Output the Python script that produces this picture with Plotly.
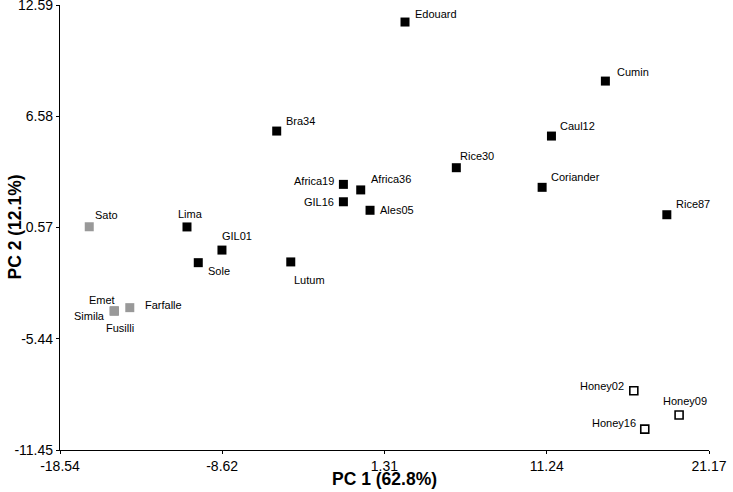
import plotly.graph_objects as go

# --- data ---
names = ["Edouard", "Cumin", "Caul12", "Rice30", "Coriander", "Rice87",
         "Africa19", "Africa36", "GIL16", "Ales05", "Bra34", "Lutum",
         "Lima", "GIL01", "Sole",
         "Sato", "Emet", "Simila", "Fusilli", "Farfalle",
         "Honey02", "Honey09", "Honey16"]
pc1 = [2.57, 14.83, 11.53, 5.71, 10.96, 18.59,
       -1.20, -0.14, -1.20, 0.43, -5.28, -4.42,
       -10.77, -8.63, -10.08,
       -16.75, -15.22, -15.22, -15.22, -14.27,
       16.57, 19.34, 17.24]
pc2 = [11.67, 8.48, 5.51, 3.80, 2.74, 1.26,
       2.90, 2.60, 1.96, 1.50, 5.78, -1.29,
       0.60, -0.65, -1.33,
       0.61, -3.94, -3.94, -3.94, -3.76,
       -8.25, -9.56, -10.32]
group = ["black"] * 15 + ["gray"] * 5 + ["hollow"] * 3

x_ticks = [-18.54, -8.62, 1.31, 11.24, 21.17]
y_ticks = [-11.45, -5.44, 0.57, 6.58, 12.59]
x_ticklabels = ["-18.54", "-8.62", "1.31", "11.24", "21.17"]
y_ticklabels = ["-11.45", "-5.44", "0.57", "6.58", "12.59"]
x_title = "PC 1 (62.8%)"
y_title = "PC 2 (12.1%)"

# --- label placement (anchor, dx px, dy px screen-down) ---
label_pos = {
    "Edouard": ("left", 8, -8), "Cumin": ("left", 10, -9), "Caul12": ("left", 7, -10),
    "Rice30": ("left", 2, -12), "Coriander": ("left", 7, -10), "Rice87": ("left", 7, -11),
    "Africa36": ("left", 8, -11), "Ales05": ("left", 8, 0), "Africa19": ("right", -7, -3),
    "GIL16": ("right", -7, 0), "Bra34": ("left", 7, -10), "Lutum": ("left", 1, 18),
    "Lima": ("center", 4, -13), "GIL01": ("left", -2, -14), "Sole": ("left", 8, 8),
    "Sato": ("left", 4, -12), "Emet": ("right", 3, -11), "Simila": ("right", -7, 5),
    "Fusilli": ("center", 6, 17), "Farfalle": ("left", 13, -3), "Honey02": ("right", -8, -5),
    "Honey09": ("center", 6, -14), "Honey16": ("right", -7, -6),
}

styles = {
    "black": dict(symbol="square", size=9, color="#000000", line=dict(width=0)),
    "gray": dict(symbol="square", size=9, color="#999999", line=dict(width=0)),
    "hollow": dict(symbol="square", size=8, color="#ffffff", line=dict(width=1.6, color="#000000")),
}

FONT = "Arial, Liberation Sans, sans-serif"
fig = go.Figure()
for g in ["black", "gray", "hollow"]:
    idx = [i for i, gg in enumerate(group) if gg == g]
    fig.add_trace(go.Scatter(
        x=[pc1[i] for i in idx], y=[pc2[i] for i in idx],
        mode="markers", marker=styles[g], showlegend=False, hoverinfo="text",
        text=[names[i] for i in idx], cliponaxis=False))

annotations = []
for n, x, y in zip(names, pc1, pc2):
    anc, dx, dy = label_pos[n]
    annotations.append(dict(x=x, y=y, text=n, showarrow=False, xanchor=anc, yanchor="middle",
                            xshift=dx, yshift=-dy, font=dict(family=FONT, size=11, color="#000000")))

# axis titles as paper-anchored annotations
annotations.append(dict(xref="paper", yref="paper", x=0.5, y=0, text="<b>" + x_title + "</b>",
                        showarrow=False, xanchor="center", yanchor="middle", yshift=-29,
                        font=dict(family=FONT, size=17.5, color="#000000")))
annotations.append(dict(xref="paper", yref="paper", x=0, y=0.5, text="<b>" + y_title + "</b>",
                        showarrow=False, xanchor="center", yanchor="middle", xshift=-46,
                        textangle=-90, font=dict(family=FONT, size=17.5, color="#000000")))

eps = 1e-6
axis_common = dict(automargin=False, showgrid=False, zeroline=False, showline=True,
                   linecolor="#000000", linewidth=1.3, ticks="outside", ticklen=3,
                   tickcolor="#000000", tickwidth=1.3, ticklabeloverflow="allow",
                   tickfont=dict(family=FONT, size=14))
fig.update_layout(
    width=733, height=492,
    margin=dict(l=60, r=24, t=5, b=42),
    paper_bgcolor="white", plot_bgcolor="white",
    font=dict(family=FONT, color="#000000"),
    annotations=annotations,
    xaxis=dict(range=[x_ticks[0] - eps, x_ticks[-1] + eps], tickvals=x_ticks, ticktext=x_ticklabels,
               **axis_common),
    yaxis=dict(range=[y_ticks[0] - eps, y_ticks[-1] + eps], tickvals=y_ticks, ticktext=y_ticklabels,
               **axis_common),
)
fig.write_html("out.html", config={"displayModeBar": False},
               post_script="document.body.style.margin='0';document.body.style.padding='0';")
